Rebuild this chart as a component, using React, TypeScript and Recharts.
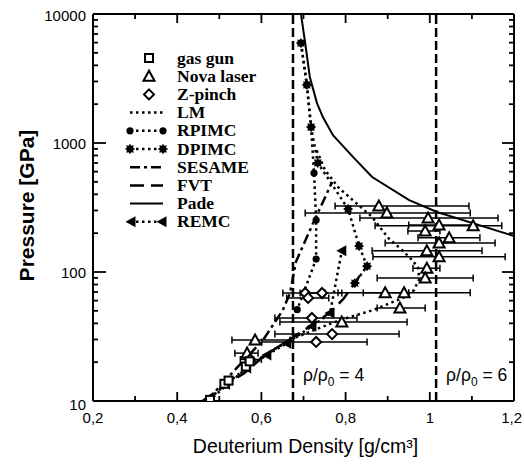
import React from 'react';
import { ComposedChart, Line, Scatter, XAxis, YAxis, ErrorBar, ReferenceLine } from 'recharts';

const W = 516;
const H = 450;
const SANS = "'Liberation Sans', Arial, Helvetica, sans-serif";
const SERIF = "'Liberation Serif', 'Times New Roman', serif";

// ---- axis ticks ----
const xTicks = [0.2, 0.3, 0.4, 0.5, 0.6, 0.7, 0.8, 0.9, 1.0, 1.1, 1.2];
const xMajorTicks = [0.2, 0.4, 0.6, 0.8, 1.0, 1.2];
const xTickLabels = ['0,2', '0,4', '0,6', '0,8', '1', '1,2'];
const yTicks = [10, 20, 30, 40, 50, 60, 70, 80, 90, 100, 200, 300, 400, 500, 600, 700, 800, 900,
  1000, 2000, 3000, 4000, 5000, 6000, 7000, 8000, 9000, 10000];
const yMajorTicks = [10, 100, 1000, 10000];
const yTickLabels = ['10', '100', '1000', '10000'];

// ---- reference compressions ----
const rho4Density = 0.675;
const rho6Density = 1.015;

// ---- experiments ----
const gasGunDensity = [0.478, 0.512, 0.522, 0.563, 0.572];
const gasGunPressure = [10.2, 13.6, 14.4, 18.5, 20.3];

const novaDensity = [0.879, 0.898, 0.996, 1.103, 1.022, 0.989, 1.046, 1.022, 0.993, 1.022, 0.993, 0.989, 0.939, 0.894, 0.929, 0.791, 0.585, 0.566];
const novaPressure = [325, 287, 262, 228, 231, 208, 184, 168, 146, 131, 107, 90, 69, 69, 52.6, 40.9, 29.7, 23.5];
const novaDensityLow = [0.775, 0.704, 0.834, 0.870, 0.95, 0.948, 0.972, 0.894, 0.863, 0.865, 0.960, 0.875, 0.782, 0.842, 0.875, 0.644, 0.530, 0.537];
const novaDensityHigh = [1.093, 1.096, 1.162, 1.171, 1.10, 1.024, 1.119, 1.155, 1.124, 1.179, 1.024, 1.103, 1.096, 0.95, 0.989, 0.946, 0.668, 0.592];

const zDensity = [0.704, 0.711, 0.744, 0.720, 0.768, 0.730, 0.573];
const zPressure = [68.7, 63, 68.7, 44, 33, 28.7, 21];
const zDensityLow = [0.651, 0.66, 0.692, 0.632, 0.632, 0.601, 0.55];
const zDensityHigh = [0.751, 0.76, 0.791, 0.827, 0.927, 0.851, 0.60];

// ---- theories ----
const lmDensity = [0.475, 0.52, 0.57, 0.62, 0.68, 0.74, 0.787, 0.865, 0.905, 0.936, 0.962, 0.975, 0.972, 0.958, 0.934, 0.901, 0.863, 0.784, 0.751, 0.73];
const lmPressure = [10, 13.5, 18.5, 24, 31, 37, 42.5, 50.6, 57.3, 63, 72, 88, 108, 124, 148, 184, 267, 448, 618, 900];

const rpimcDensity = [0.694, 0.708, 0.718, 0.725, 0.730, 0.730, 0.685];
const rpimcPressure = [5950, 2820, 1330, 585, 253, 126, 51];

const dpimcDensity = [0.694, 0.708, 0.718, 0.734, 0.806, 0.832, 0.851, 0.822];
const dpimcPressure = [5950, 2820, 1330, 700, 308, 159, 111, 82];

const sesameDensity = [0.47, 0.537, 0.604, 0.651, 0.668, 0.682, 0.720, 0.768];
const sesamePressure = [10, 17.4, 29.7, 50.7, 68.7, 120, 228, 499];

const fvtDensity = [0.46, 0.51, 0.56, 0.609, 0.66, 0.72, 0.761, 0.795, 0.822, 0.835];
const fvtPressure = [10, 13, 16.5, 22.7, 29, 38.8, 48, 62, 82, 95];

const padeDensity = [0.694, 0.704, 0.715, 0.732, 0.746, 0.770, 0.818, 0.863, 0.951, 1.017, 1.2];
const padePressure = [10000, 5960, 3250, 2040, 1590, 1150, 778, 545, 361, 292, 190];

const remcDensity = [0.478, 0.515, 0.565, 0.613, 0.66, 0.72, 0.763, 0.791];
const remcPressure = [10.5, 13.5, 18, 22.7, 28, 38, 48, 146];

const legendNames = ['gas gun', 'Nova laser', 'Z-pinch', 'LM', 'RPIMC', 'DPIMC', 'SESAME', 'FVT', 'Pade', 'REMC'];

// ---- build tables ----
const pts = (xs: number[], ys: number[]) => xs.map((x, i) => ({ x, y: ys[i] }));
const errPts = (xs: number[], ys: number[], lo: number[], hi: number[]) =>
  xs.map((x, i) => ({ x, y: ys[i], xErr: [x - lo[i], hi[i] - x] }));

const gasGunData = pts(gasGunDensity, gasGunPressure);
const novaData = errPts(novaDensity, novaPressure, novaDensityLow, novaDensityHigh);
const zData = errPts(zDensity, zPressure, zDensityLow, zDensityHigh);
const lmData = pts(lmDensity, lmPressure);
const rpimcData = pts(rpimcDensity, rpimcPressure);
const dpimcData = pts(dpimcDensity, dpimcPressure);
const sesameData = pts(sesameDensity, sesamePressure);
const fvtData = pts(fvtDensity, fvtPressure);
const padeData = pts(padeDensity, padePressure);
const remcData = pts(remcDensity, remcPressure);

// ---- styles ----
const DOT = '2.5 3.5';
const DASHDOT = '10 4 3 4';
const DASH = '14 7';

// ---- marker shapes ----
const SquareM = (cx: number, cy: number, k?: any) => (
  <rect key={k} x={cx - 4} y={cy - 4} width={8} height={8} fill="#fff" stroke="#000" strokeWidth={2} />
);
const TriM = (cx: number, cy: number, k?: any) => (
  <polygon key={k} points={`${cx},${cy - 5.5} ${cx - 5.5},${cy + 4.5} ${cx + 5.5},${cy + 4.5}`} fill="#fff" stroke="#000" strokeWidth={2} />
);
const DiamondM = (cx: number, cy: number, k?: any) => (
  <polygon key={k} points={`${cx},${cy - 5} ${cx + 5},${cy} ${cx},${cy + 5} ${cx - 5},${cy}`} fill="#fff" stroke="#000" strokeWidth={2} />
);
const CircleM = (cx: number, cy: number, k?: any) => <circle key={k} cx={cx} cy={cy} r={3.6} fill="#000" />;
const StarM = (cx: number, cy: number, k?: any) => {
  const n = 8;
  const p: string[] = [];
  for (let i = 0; i < n * 2; i++) {
    const r = i % 2 === 0 ? 5.2 : 3.4;
    const a = (Math.PI * i) / n;
    p.push(`${cx + r * Math.cos(a)},${cy + r * Math.sin(a)}`);
  }
  return <polygon key={k} points={p.join(' ')} fill="#000" />;
};
const LeftTriM = (cx: number, cy: number, k?: any) => (
  <polygon key={k} points={`${cx - 5.5},${cy} ${cx + 4.5},${cy - 5.5} ${cx + 4.5},${cy + 5.5}`} fill="#000" />
);

const dotRenderer = (fn: any) => (p: any) => {
  if (p.cx == null || p.cy == null) return <g key={p.index} />;
  return fn(p.cx, p.cy, p.index);
};
const shapeRenderer = (fn: any) => (p: any) => fn(p.cx, p.cy);

// ---- ticks ----
const isIn = (arr: number[], v: number) => arr.findIndex((m) => Math.abs(m - v) < 1e-6);

const BottomTick = (props: any) => {
  const { x, y, payload } = props;
  const i = isIn(xMajorTicks, payload.value);
  const last = i === xMajorTicks.length - 1;
  return (
    <g>
      <line x1={x} x2={x} y1={y} y2={y - (i >= 0 ? 9 : 5)} stroke="#000" strokeWidth={1.8} />
      {i >= 0 && (
        <text x={last ? x + 8 : x} y={y + 22} textAnchor={last ? 'end' : 'middle'} fontSize={15} fontFamily={SANS} fill="#000">
          {xTickLabels[i]}
        </text>
      )}
    </g>
  );
};
const TopTick = (props: any) => {
  const { x, y, payload } = props;
  const i = isIn(xMajorTicks, payload.value);
  return <line x1={x} x2={x} y1={y} y2={y + (i >= 0 ? 9 : 5)} stroke="#000" strokeWidth={1.8} />;
};
const LeftTick = (props: any) => {
  const { x, y, payload } = props;
  const i = isIn(yMajorTicks, payload.value);
  const last = i === yMajorTicks.length - 1;
  return (
    <g>
      <line x1={x} x2={x + (i >= 0 ? 13 : 5)} y1={y} y2={y} stroke="#000" strokeWidth={1.8} />
      {i >= 0 && (
        <text x={x - 7} y={y + 5.5 + (i === 0 ? 3 : 0) + (last ? 1 : 0)} textAnchor="end" fontSize={15} fontFamily={SANS} fill="#000">
          {yTickLabels[i]}
        </text>
      )}
    </g>
  );
};
const RightTick = (props: any) => {
  const { x, y, payload } = props;
  const i = isIn(yMajorTicks, payload.value);
  return <line x1={x} x2={x - (i >= 0 ? 12 : 5)} y1={y} y2={y} stroke="#000" strokeWidth={1.8} />;
};

const RhoLabel = (n: string) => (props: any) => {
  const vb = props.viewBox || {};
  const x = vb.x + 10;
  const y = vb.y + vb.height - 20;
  return (
    <text x={x} y={y} fontSize={17.5} fontFamily={SANS} fill="#000">
      ρ/ρ<tspan fontSize={12} dy={5}>0</tspan>
      <tspan dy={-5}> = {n}</tspan>
    </text>
  );
};

const XTitle = (props: any) => {
  const vb = props.viewBox || {};
  return (
    <text x={vb.x + vb.width / 2 + 2} y={vb.y + 52} textAnchor="middle" fontSize={19.5} fontFamily={SANS} fill="#000">
      Deuterium Density [g/cm³]
    </text>
  );
};
const YTitle = (props: any) => {
  const vb = props.viewBox || {};
  const cx = 26;
  const cy = vb.y + vb.height / 2 - 2;
  return (
    <text x={cx} y={cy} transform={`rotate(-90, ${cx}, ${cy})`} textAnchor="middle" fontSize={21} fontWeight="bold" fontFamily={SANS} fill="#000">
      Pressure [GPa]
    </text>
  );
};

// ---- legend overlay ----
const LEGEND_TOP = 50;
const LEGEND_STEP = 18.2;
const LX0 = 122;
const LX1 = 155;
const LMID = 141;
const LTEXT = 169;

const LegendOverlay = () => {
  const seg = (y: number, dash?: string, w = 2.5) => (
    <line x1={LX0} x2={LX1} y1={y} y2={y} stroke="#000" strokeWidth={w} strokeDasharray={dash} />
  );
  const samples = [
    (y: number) => SquareM(LMID, y),
    (y: number) => TriM(LMID, y),
    (y: number) => DiamondM(LMID, y),
    (y: number) => seg(y, DOT),
    (y: number) => (<g>{seg(y, DOT)}{CircleM(LX0, y)}{CircleM(LX1, y)}</g>),
    (y: number) => (<g>{seg(y, DOT)}{StarM(LX0, y)}{StarM(LX1, y)}</g>),
    (y: number) => seg(y, DASHDOT),
    (y: number) => seg(y, DASH),
    (y: number) => seg(y, undefined, 2),
    (y: number) => (<g>{seg(y, DOT)}{LeftTriM(LX0 + 1, y)}{LeftTriM(LX1 - 1, y)}</g>),
  ];
  return (
    <svg width={W} height={H} style={{ position: 'absolute', left: 0, top: 0, pointerEvents: 'none', overflow: 'visible' }}>
      {legendNames.map((name, i) => {
        const y = LEGEND_TOP + LEGEND_STEP * i;
        return (
          <g key={name}>
            {samples[i](y)}
            <text x={LTEXT} y={y + 5.5} fontSize={17.5} fontWeight="bold" fontFamily={SERIF} fill="#000">
              {name}
            </text>
          </g>
        );
      })}
    </svg>
  );
};

export default function App() {
  const axisLine = { stroke: '#000', strokeWidth: 2 };
  return (
    <div style={{ position: 'absolute', left: 8, top: 8, width: W, height: H }}>
      <ComposedChart width={W} height={H} margin={{ top: 0, right: 0, bottom: 0, left: 0 }} style={{ overflow: 'visible' }}>
        <XAxis
          dataKey="x"
          type="number"
          domain={[0.2, 1.2]}
          ticks={xTicks}
          interval={0}
          allowDataOverflow
          height={57}
          tickSize={0}
          tickMargin={0}
          tickLine={false}
          axisLine={axisLine}
          tick={<BottomTick />}
          label={XTitle}
        />
        <XAxis
          xAxisId="top"
          orientation="top"
          dataKey="x"
          type="number"
          domain={[0.2, 1.2]}
          ticks={xTicks}
          interval={0}
          allowDataOverflow
          height={6}
          tickSize={0}
          tickMargin={0}
          tickLine={false}
          axisLine={axisLine}
          tick={<TopTick />}
        />
        <YAxis
          dataKey="y"
          type="number"
          scale="log"
          domain={[10, 10000]}
          ticks={yTicks}
          interval={0}
          allowDataOverflow
          width={85}
          tickSize={0}
          tickMargin={0}
          tickLine={false}
          axisLine={axisLine}
          tick={<LeftTick />}
          label={YTitle}
        />
        <YAxis
          yAxisId="right"
          orientation="right"
          dataKey="y"
          type="number"
          scale="log"
          domain={[10, 10000]}
          ticks={yTicks}
          interval={0}
          allowDataOverflow
          width={10}
          tickSize={0}
          tickMargin={0}
          tickLine={false}
          axisLine={axisLine}
          tick={<RightTick />}
        />

        <ReferenceLine x={rho4Density} stroke="#000" strokeWidth={2.5} strokeDasharray="9 4" label={RhoLabel('4')} />
        <ReferenceLine x={rho6Density} stroke="#000" strokeWidth={2.5} strokeDasharray="9 4" label={RhoLabel('6')} />

        <Line data={padeData} dataKey="y" type="linear" stroke="#000" strokeWidth={2} dot={false} isAnimationActive={false} legendType="none" />
        <Line data={lmData} dataKey="y" type="linear" stroke="#000" strokeWidth={2.5} strokeDasharray={DOT} dot={false} isAnimationActive={false} legendType="none" />
        <Line data={sesameData} dataKey="y" type="linear" stroke="#000" strokeWidth={2.5} strokeDasharray={DASHDOT} dot={false} isAnimationActive={false} legendType="none" />
        <Line data={fvtData} dataKey="y" type="linear" stroke="#000" strokeWidth={2.5} strokeDasharray={DASH} dot={false} isAnimationActive={false} legendType="none" />
        <Line data={rpimcData} dataKey="y" type="linear" stroke="#000" strokeWidth={2.5} strokeDasharray={DOT} dot={dotRenderer(CircleM)} isAnimationActive={false} legendType="none" />
        <Line data={dpimcData} dataKey="y" type="linear" stroke="#000" strokeWidth={2.5} strokeDasharray={DOT} dot={dotRenderer(StarM)} isAnimationActive={false} legendType="none" />
        <Line data={remcData} dataKey="y" type="linear" stroke="#000" strokeWidth={2.5} strokeDasharray={DOT} dot={dotRenderer(LeftTriM)} isAnimationActive={false} legendType="none" />

        <Scatter data={novaData} dataKey="y" shape={shapeRenderer(TriM)} isAnimationActive={false} legendType="none">
          <ErrorBar dataKey="xErr" direction="x" width={3.5} stroke="#000" strokeWidth={1.5} />
        </Scatter>
        <Scatter data={zData} dataKey="y" shape={shapeRenderer(DiamondM)} isAnimationActive={false} legendType="none">
          <ErrorBar dataKey="xErr" direction="x" width={3.5} stroke="#000" strokeWidth={1.5} />
        </Scatter>
        <Scatter data={gasGunData} dataKey="y" shape={shapeRenderer(SquareM)} isAnimationActive={false} legendType="none" />
      </ComposedChart>
      <LegendOverlay />
    </div>
  );
}
